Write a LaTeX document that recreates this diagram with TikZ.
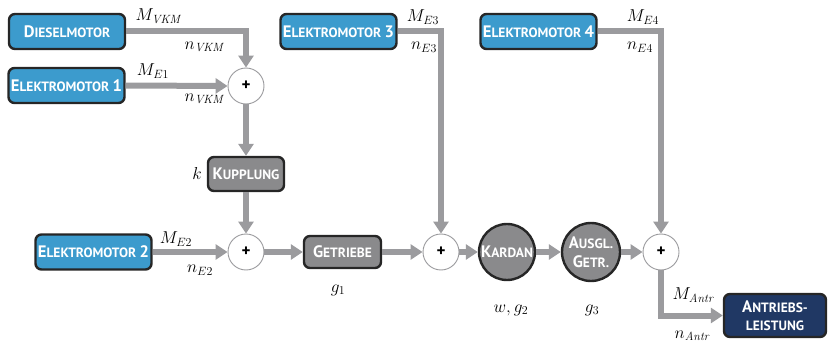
\documentclass[tikz,border=0pt]{standalone}
\usepackage{fontspec}
\setsansfont{PT Sans}
\usetikzlibrary{arrows.meta}
\definecolor{boxblue}{RGB}{60,155,205}
\definecolor{boxgray}{RGB}{138,138,140}
\definecolor{arrgray}{RGB}{155,155,158}
\definecolor{navy}{RGB}{32,56,100}
\newcommand\bgc[1]{{\fontsize{16.6}{19}\selectfont #1}}
\newcommand\smc[1]{{\fontsize{13.5}{19}\selectfont #1}}
\tikzset{
  boxbase/.style={draw=black!85, line width=2.4pt, rounded corners=6pt, inner sep=0pt,
    text=white, font=\sffamily\bfseries\fontsize{13.5}{19}\selectfont, align=center},
  bluebox/.style={boxbase, fill=boxblue, minimum width=116pt, minimum height=35pt},
  graybox/.style={boxbase, fill=boxgray},
  navybox/.style={boxbase, fill=navy, minimum width=102pt, minimum height=43pt},
  sumnode/.style={circle, draw=arrgray, line width=0.9pt, fill=white, minimum size=36pt,
    inner sep=0pt, font=\sffamily\bfseries\fontsize{17}{17}\selectfont},
  bigcirc/.style={circle, draw=black!85, line width=2.4pt, fill=boxgray, inner sep=0pt,
    text=white, font=\sffamily\bfseries\fontsize{13.5}{19}\selectfont, align=center},
  arr/.style={draw=arrgray, line width=6pt, -{Triangle[length=12pt,width=15pt]}},
  lab/.style={inner sep=0pt, font=\fontsize{17}{17}\selectfont},
}
\begin{document}
\begin{tikzpicture}[x=1pt,y=-1pt]
\useasboundingbox (0,0) rectangle (828,345);
% boxes
\node[bluebox] (diesel) at (67,31.5) {\bgc{D}\smc{IESELMOTOR}};
\node[bluebox] (e1) at (66.5,85.5) {\bgc{E}\smc{LEKTROMOTOR }\bgc{1}};
\node[bluebox] (e2) at (93.5,252) {\bgc{E}\smc{LEKTROMOTOR }\bgc{2}};
\node[bluebox] (e3) at (338.5,31.5) {\bgc{E}\smc{LEKTROMOTOR }\bgc{3}};
\node[bluebox] (e4) at (538.5,31.5) {\bgc{E}\smc{LEKTROMOTOR }\bgc{4}};
\node[graybox, minimum width=76pt, minimum height=34pt] (kup) at (246,174) {\bgc{K}\smc{UPPLUNG}};
\node[graybox, minimum width=77pt, minimum height=32pt] (getr) at (342.5,252) {\bgc{G}\smc{ETRIEBE}};
\node[navybox] (antr) at (775,315.5) {\bgc{A}\smc{NTRIEBS-}\\[-1pt]\smc{LEISTUNG}};
% sums
\node[sumnode] (p1) at (246,86) {+};
\node[sumnode] (p2) at (246,252) {+};
\node[sumnode] (p3) at (441,252) {+};
\node[sumnode] (p4) at (661,252) {+};
% circles
\node[bigcirc, minimum size=56pt] (kard) at (507,252) {\bgc{K}\smc{ARDAN}};
\node[bigcirc, minimum size=58pt] (ausgl) at (591,252) {\bgc{A}\smc{USGL.}\\\bgc{G}\smc{ETR.}};
% connectors
\draw[arr] (diesel.east) -| (p1.north);
\draw[arr] (e1.east) -- (p1.west);
\draw[arr] (p1.south) -- (kup.north);
\draw[arr] (kup.south) -- (p2.north);
\draw[arr] (e2.east) -- (p2.west);
\draw[arr] (p2.east) -- (getr.west);
\draw[arr] (getr.east) -- (p3.west);
\draw[arr] (e3.east) -| (p3.north);
\draw[arr] (p3.east) -- (kard.west);
\draw[arr] (kard.east) -- (ausgl.west);
\draw[arr] (ausgl.east) -- (p4.west);
\draw[arr] (e4.east) -| (p4.north);
\draw[arr] (p4.south) |- (antr.west);
% labels
\node[lab] (lMvkm) at (158,16) {$M_{\mathit{VKM}}$};
\node[lab] (lnvkm) at (204,47) {$n_{\mathit{VKM}}$};
\node[lab] (lMe1) at (153,71) {$M_{E1}$};
\node[lab] (lnvkm2) at (204,99) {$n_{\mathit{VKM}}$};
\node[lab] (lk) at (197,173) {$k$};
\node[lab] (lMe2) at (176,239) {$M_{E2}$};
\node[lab] (lne2) at (200,270) {$n_{E2}$};
\node[lab] (lg1) at (338,290) {$g_1$};
\node[lab] (lMe3) at (423,17) {$M_{E3}$};
\node[lab] (lne3) at (424,47) {$n_{E3}$};
\node[lab] (lMe4) at (643,17) {$M_{E4}$};
\node[lab] (lne4) at (640,47) {$n_{E4}$};
\node[lab] (lwg2) at (511,310) {$w,g_2$};
\node[lab] (lg3) at (592,310) {$g_3$};
\node[lab] (lMantr) at (693,295) {$M_{\mathit{Antr}}$};
\node[lab] (lnantr) at (692,336) {$n_{\mathit{Antr}}$};
\end{tikzpicture}
\end{document}
